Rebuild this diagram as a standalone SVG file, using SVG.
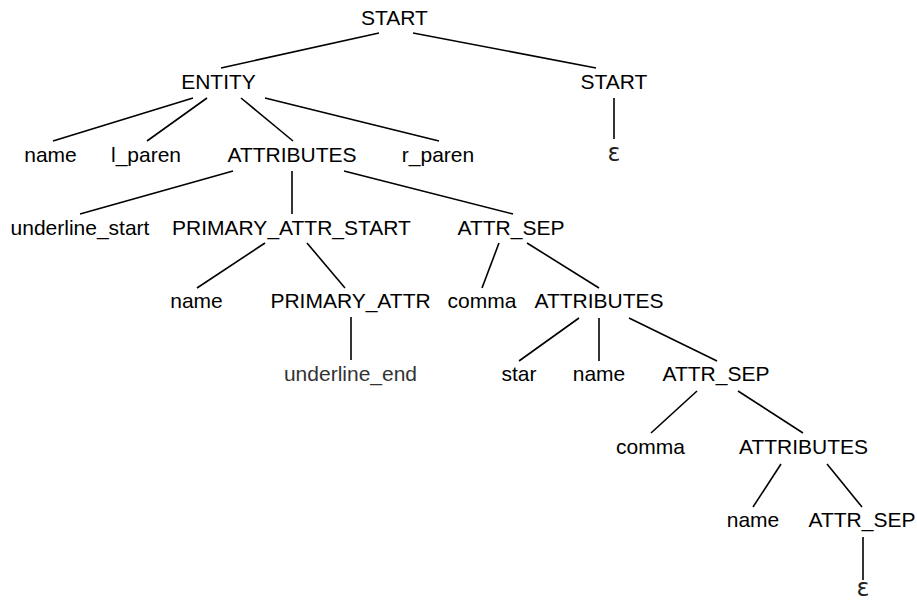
<svg xmlns="http://www.w3.org/2000/svg" width="917" height="601" viewBox="0 0 917 601">
<style>
text{font-family:"Liberation Sans",Arial,sans-serif;font-size:21px;fill:#000;text-anchor:middle}
.eps{font-family:"DejaVu Sans",sans-serif;font-size:24px;fill:#222}
.gray{fill:#333}
#edges line{stroke:#000;stroke-width:1.6}
</style>
<rect width="917" height="601" fill="#fff"/>
<g id="edges">
<line x1="379" y1="33" x2="221" y2="68"/>
<line x1="413" y1="33" x2="596" y2="68"/>
<line x1="193" y1="98" x2="53" y2="141"/>
<line x1="207" y1="98" x2="147" y2="141"/>
<line x1="241" y1="98" x2="293" y2="141"/>
<line x1="265" y1="98" x2="439" y2="141"/>
<line x1="614" y1="98" x2="614" y2="139"/>
<line x1="233" y1="171" x2="80" y2="214"/>
<line x1="292" y1="171" x2="292" y2="214"/>
<line x1="344" y1="171" x2="513" y2="214"/>
<line x1="265" y1="243" x2="197" y2="288"/>
<line x1="307" y1="243" x2="345" y2="288"/>
<line x1="351" y1="317" x2="351" y2="360"/>
<line x1="499" y1="243" x2="482" y2="288"/>
<line x1="527" y1="243" x2="599" y2="288"/>
<line x1="579" y1="318" x2="519" y2="361"/>
<line x1="599" y1="318" x2="599" y2="361"/>
<line x1="629" y1="318" x2="717" y2="361"/>
<line x1="697" y1="391" x2="651" y2="433"/>
<line x1="738" y1="391" x2="803" y2="433"/>
<line x1="781" y1="464" x2="753" y2="507"/>
<line x1="827" y1="464" x2="862" y2="507"/>
<line x1="863" y1="537" x2="863" y2="580"/>
</g>
<g id="n_start"><text x="394.5" y="25">START</text></g>
<g id="n_entity"><text x="218.5" y="89">ENTITY</text></g>
<g id="n_start2"><text x="614" y="89">START</text></g>
<g id="n_name1"><text x="50.5" y="162">name</text></g>
<g id="n_lparen"><text x="146" y="162">l_paren</text></g>
<g id="n_attrs1"><text x="292" y="162">ATTRIBUTES</text></g>
<g id="n_rparen"><text x="438" y="162">r_paren</text></g>
<g id="n_eps1"><text class="eps" x="614" y="161">ε</text></g>
<g id="n_ulstart"><text x="80" y="235">underline_start</text></g>
<g id="n_pas"><text x="291.5" y="235">PRIMARY_ATTR_START</text></g>
<g id="n_sep1"><text x="511" y="235">ATTR_SEP</text></g>
<g id="n_name2"><text x="196.5" y="308">name</text></g>
<g id="n_pa"><text x="350.5" y="308">PRIMARY_ATTR</text></g>
<g id="n_comma1"><text x="482" y="308">comma</text></g>
<g id="n_attrs2"><text x="599" y="308">ATTRIBUTES</text></g>
<g id="n_ulend"><text class="gray" x="350.5" y="381">underline_end</text></g>
<g id="n_star"><text x="519" y="381">star</text></g>
<g id="n_name3"><text x="599" y="381">name</text></g>
<g id="n_sep2"><text x="716" y="381">ATTR_SEP</text></g>
<g id="n_comma2"><text x="650.5" y="454">comma</text></g>
<g id="n_attrs3"><text x="803.5" y="454">ATTRIBUTES</text></g>
<g id="n_name4"><text x="753" y="527">name</text></g>
<g id="n_sep3"><text x="862" y="527">ATTR_SEP</text></g>
<g id="n_eps2"><text class="eps" x="863" y="596">ε</text></g>
</svg>
